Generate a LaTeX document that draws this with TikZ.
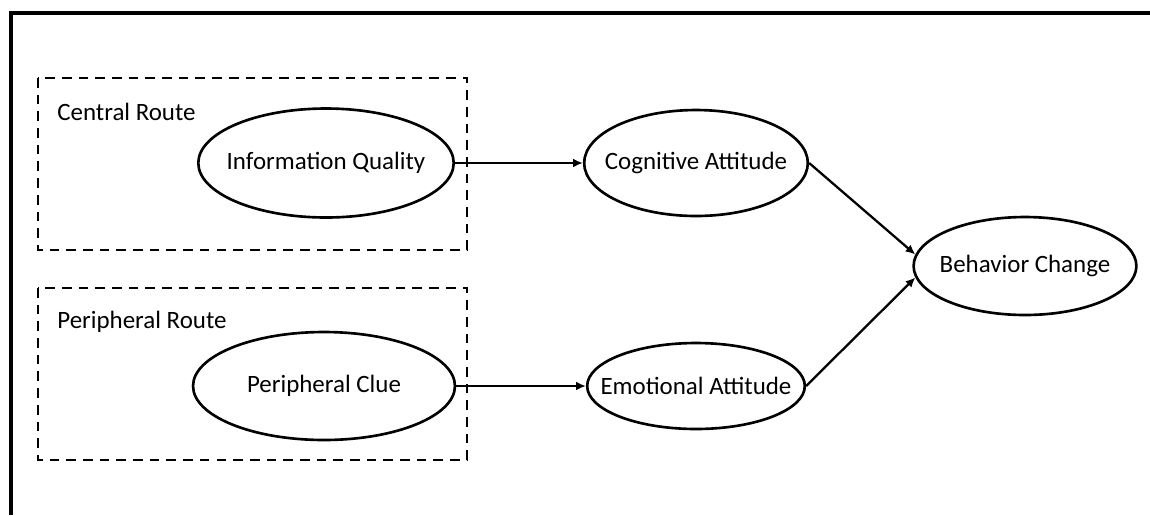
\documentclass[tikz,border=0pt]{standalone}
\usepackage{fontspec}
\setmainfont{Carlito}
\usetikzlibrary{shapes.geometric,arrows.meta}

\begin{document}
\begin{tikzpicture}[x=0.02cm,y=-0.02cm,
    construct/.style={ellipse,draw,line width=1.5pt,inner sep=0pt,font=\fontsize{14.2}{17}\selectfont},
    routebox/.style={draw,dashed,dash pattern=on 5.5pt off 4pt,line width=1.6pt},
    routename/.style={anchor=west,inner sep=0pt,font=\fontsize{14.2}{17}\selectfont},
    link/.style={-{Latex[length=5.5pt,width=5pt]},line width=1.3pt}]
                \useasboundingbox (0,0) rectangle (1150,515);
                \draw[line width=2.3pt] (1150,13) -- (11,13) -- (11,515);

                \draw[routebox] (38,78) rectangle (467,250);
                \draw[routebox] (38,288) rectangle (467,460);
                \node[routename] (cr) at (57,112) {Central Route};
                \node[routename] (pr) at (57,322) {Peripheral Route};

                \node[construct,inner xsep=-0.18cm,minimum height=2.18cm] (iq) at (326,163) {Information Quality};
                \node[construct,minimum width=5.24cm,minimum height=2.16cm] (pc) at (324,386) {Peripheral Clue};
                \node[construct,inner xsep=-0.24cm,minimum height=2.12cm] (ca) at (696,163) {Cognitive Attitude};
                \node[construct,inner xsep=-0.37cm,minimum height=1.72cm] (ea) at (696,386) {Emotional Attitude};
                \node[construct,inner xsep=-0.13cm,minimum height=1.96cm] (bc) at (1025,266) {Behavior Change};

                \draw[link] (iq) to (ca); \draw[link] (pc) to (ea);
                \draw[link] (ca.east) to (bc.174); \draw[link] (ea.east) to (bc.186);
            \end{tikzpicture}
\end{document}
